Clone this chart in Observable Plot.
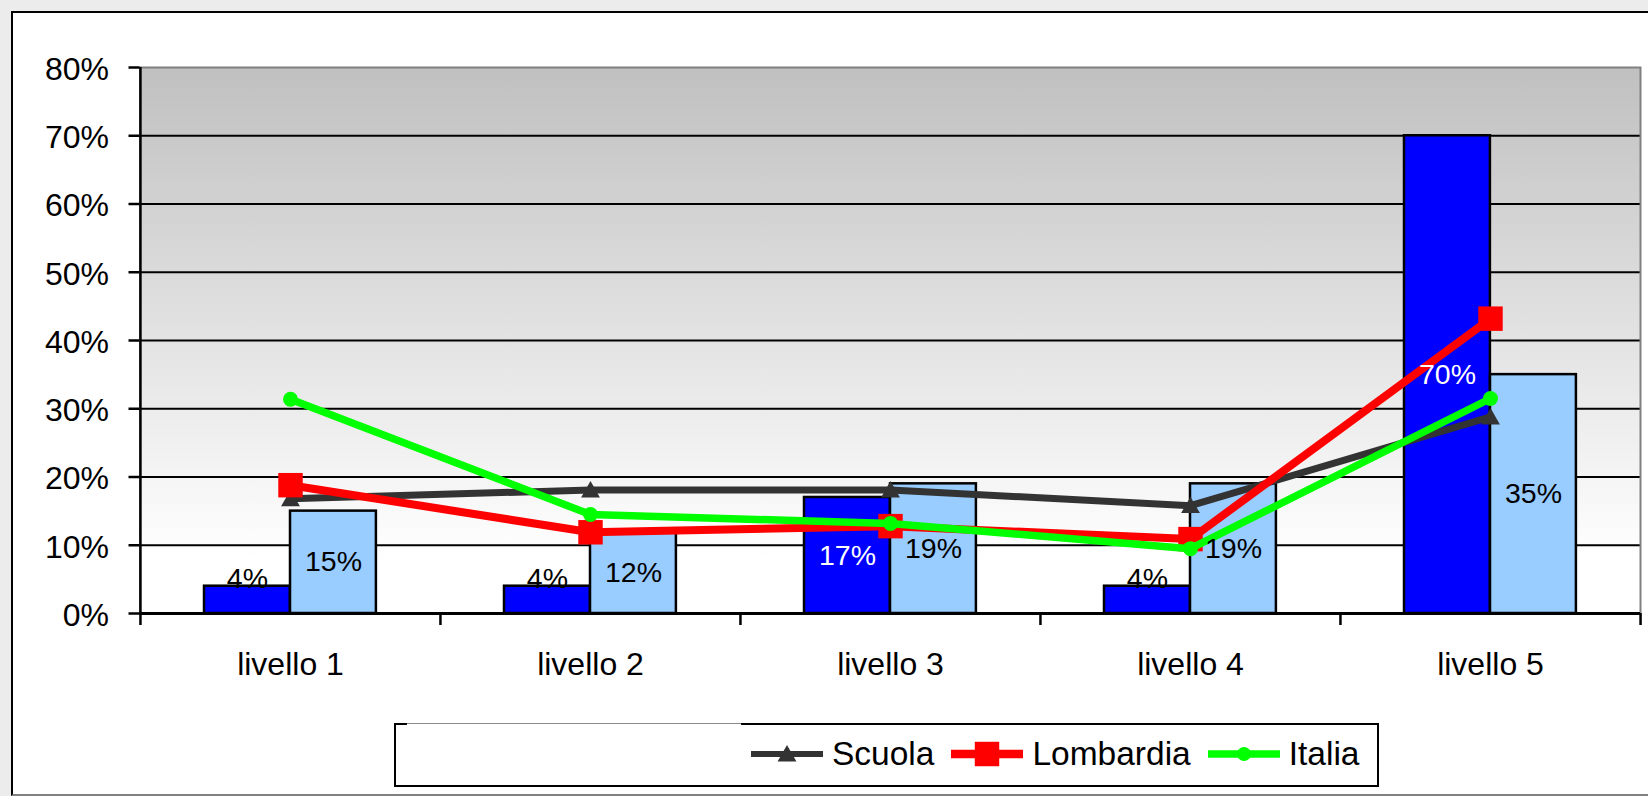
<!DOCTYPE html>
<html>
<head>
<meta charset="utf-8">
<script src="https://cdn.jsdelivr.net/npm/d3@7"></script>
<script src="https://cdn.jsdelivr.net/npm/@observablehq/plot@0.6"></script>
<style>
html, body { margin: 0; padding: 0; background: #ececec; overflow: hidden; }
#wrap { position: relative; width: 1648px; height: 796px; overflow: hidden; font-family: "Liberation Sans", Arial, sans-serif; }
#frame { position: absolute; left: 11px; top: 11px; width: 1700px; height: 785px; box-sizing: border-box; background: #fff;
  border-left: 2px solid #000; border-top: 2px solid #000; border-bottom: 2px solid #808080; }
#chart { position: absolute; left: 0; top: 0; }
#legend { position: absolute; left: 394px; top: 723px; width: 985px; height: 64px; box-sizing: border-box; border: 2px solid #000; background: #fff; }
#legend .cover { position: absolute; left: 11px; top: -2px; width: 334px; height: 2px; background: #fff; border-top: 1px solid #8a8a8a; box-sizing: border-box; }
#items { position: absolute; left: 355px; top: 9px; height: 40px; display: flex; align-items: center; font-size: 33.5px; color: #000; white-space: nowrap; }
#items .item { display: flex; align-items: center; margin-right: 17px; }
#items svg { display: block; margin-right: 9px; }
</style>
</head>
<body>
<svg width="0" height="0" style="position:absolute">
  <defs>
    <linearGradient id="plotBg" x1="0" y1="0" x2="0" y2="1">
      <stop offset="0" stop-color="#c0c0c0"/>
      <stop offset="0.9" stop-color="#ffffff"/>
    </linearGradient>
  </defs>
</svg>
<div id="wrap">
  <div id="frame"></div>
  <div id="chart"></div>
  <div id="legend"><div class="cover"></div><div id="items"></div></div>
</div>
<script>
// ---- data ----
const categories = ["livello 1", "livello 2", "livello 3", "livello 4", "livello 5"];
const barsDark = [4, 4, 17, 4, 70];
const barsLight = [15, 12, 19, 19, 35];
const lineScuola = [16.8, 18.1, 18.1, 15.8, 28.8];
const lineLombardia = [18.8, 11.9, 12.8, 10.9, 43.2];
const lineItalia = [31.4, 14.5, 13.2, 9.5, 31.5];
const yTicks = [0, 10, 20, 30, 40, 50, 60, 70, 80];
const seriesNames = ["Scuola", "Lombardia", "Italia"];

// ---- layout / style ----
const W = 1648, H = 796, ML = 139.5, MR = 8, MT = 67, MB = 183;
const bw = (W - ML - MR) / categories.length;
const inset = 64, barW = 86;
const font = '"Liberation Sans", Arial, sans-serif';

const series = [
  {name: seriesNames[0], values: lineScuola, color: "#333333", symbol: "triangle", r: 7, width: 7, dy: 2, lw: 6},
  {name: seriesNames[1], values: lineLombardia, color: "#ff0000", symbol: "square", r: 13.8, width: 8, dy: 0, lw: 8.5},
  {name: seriesNames[2], values: lineItalia, color: "#00ff00", symbol: "circle", r: 7.5, width: 7.5, dy: 0, lw: 7.5}
];

const bars = categories.map((c, i) => ({cat: c, dark: barsDark[i], light: barsLight[i]}));
const darkDx = inset + barW / 2 - bw / 2;
const lightDx = inset + 1.5 * barW - bw / 2;

const lineMarks = series.flatMap(s => {
  const data = categories.map((c, i) => ({cat: c, v: s.values[i]}));
  return [
    Plot.line(data, {x: "cat", y: "v", stroke: s.color, strokeWidth: s.width, strokeLinejoin: "round", strokeLinecap: "butt"}),
    Plot.dot(data, {x: "cat", y: "v", symbol: s.symbol, r: s.r, fill: s.color, stroke: "none", dy: s.dy})
  ];
});

const chart = Plot.plot({
  width: W, height: H,
  marginLeft: ML, marginRight: MR, marginTop: MT, marginBottom: MB,
  style: {fontFamily: font, fontSize: "32px", background: "transparent", color: "#000", overflow: "visible"},
  x: {type: "band", domain: categories, paddingInner: 0, paddingOuter: 0, label: null},
  y: {domain: [0, 80], label: null},
  marks: [
    Plot.frame({fill: "url(#plotBg)", stroke: "none"}),
    Plot.ruleY(yTicks.filter(t => t > 0 && t < 80), {stroke: "#000", strokeWidth: 2}),
    Plot.frame({stroke: "#808080", strokeWidth: 2}),
    Plot.barY(bars, {x: "cat", y: "dark", fill: "#0000ff", stroke: "#000", strokeWidth: 2.5,
      insetLeft: inset, insetRight: bw - inset - barW}),
    Plot.barY(bars, {x: "cat", y: "light", fill: "#99ccff", stroke: "#000", strokeWidth: 2.5,
      insetLeft: inset + barW, insetRight: bw - inset - 2 * barW}),
    Plot.ruleY([0], {stroke: "#000", strokeWidth: 3}),
    Plot.ruleX([categories[0]], {dx: -bw / 2, stroke: "#000", strokeWidth: 2.5}),
    Plot.ruleX(categories, {x: d => d, y1: 0, y2: 0, insetBottom: -12, dx: -bw / 2, stroke: "#000", strokeWidth: 2.5}),
    Plot.ruleX([categories[categories.length - 1]], {x: d => d, y1: 0, y2: 0, insetBottom: -12, dx: bw / 2, stroke: "#000", strokeWidth: 2.5}),
    Plot.axisY(yTicks, {tickSize: 11, fill: "none", stroke: "#000", strokeWidth: 2.5, label: null}),
    Plot.axisY(yTicks, {tickSize: 0, tickPadding: 31, tickFormat: d => d + "%", fontSize: 32, dy: 2, fill: "#000", label: null}),
    Plot.axisX({tickSize: 0, tickPadding: 39, fontSize: 32, fill: "#000", label: null}),
    ...lineMarks,
    Plot.text(bars.filter(d => d.dark >= 10), {x: "cat", y: d => d.dark / 2, text: d => d.dark + "%", dx: darkDx, fill: "#fff", fontSize: 28.5}),
    Plot.text(bars.filter(d => d.dark < 10), {x: "cat", y: "dark", text: d => d.dark + "%", dx: darkDx, dy: -7, fill: "#000", fontSize: 28.5}),
    Plot.text(bars, {x: "cat", y: d => d.light / 2, text: d => d.light + "%", dx: lightDx, fill: "#000", fontSize: 28.5})
  ]
});
document.getElementById("chart").appendChild(chart);

// ---- legend (lines only, as in the reference) ----
const items = d3.select("#items");
series.forEach(s => {
  const it = items.append("div").attr("class", "item");
  const sv = it.append("svg").attr("width", 72).attr("height", 30);
  sv.append("line").attr("x1", 0).attr("x2", 72).attr("y1", 15).attr("y2", 15)
    .attr("stroke", s.color).attr("stroke-width", s.lw);
  const typ = s.symbol === "triangle" ? d3.symbolTriangle : s.symbol === "square" ? d3.symbolSquare : d3.symbolCircle;
  const rr = s.symbol === "circle" ? 7 : s.r;
  sv.append("path").attr("d", d3.symbol(typ, Math.PI * rr * rr)())
    .attr("transform", `translate(36,${15 + s.dy})`).attr("fill", s.color);
  it.append("span").text(s.name);
});
</script>
</body>
</html>
